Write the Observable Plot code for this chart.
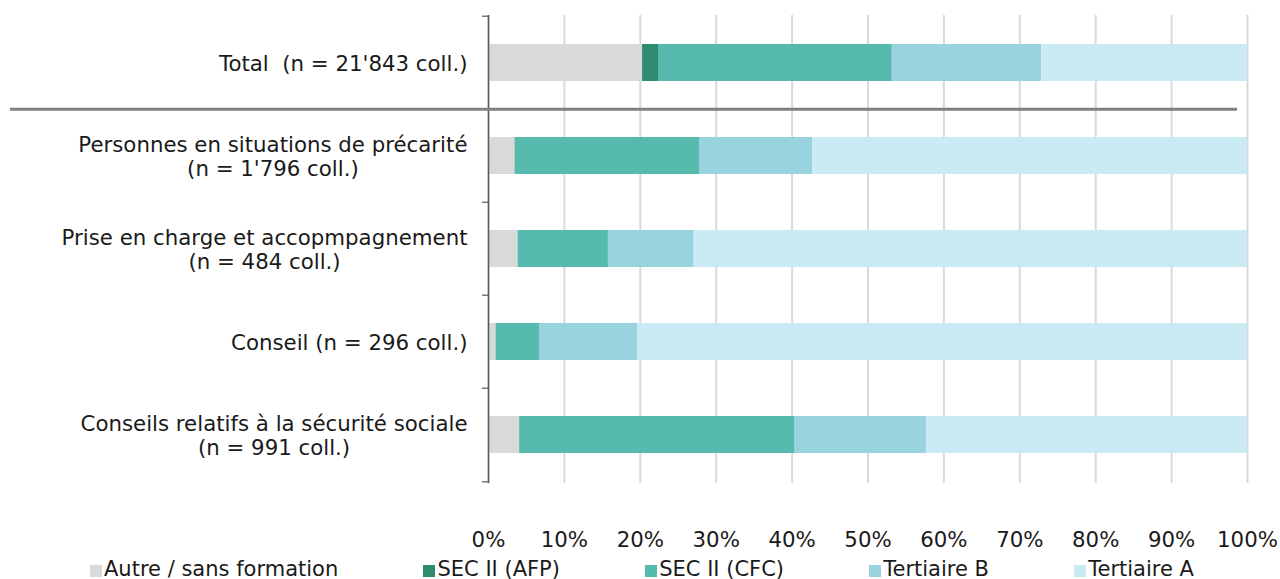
<!DOCTYPE html>
<html><head><meta charset="utf-8">
<script src="https://cdn.jsdelivr.net/npm/d3@7"></script>
<script src="https://cdn.jsdelivr.net/npm/@observablehq/plot@0.6"></script>
<style>
body{margin:0;background:#fff;font-family:"DejaVu Sans",Verdana,sans-serif;}
#chart svg{display:block;}
#legend{display:flex;justify-content:space-between;width:1104px;margin-left:90px;margin-top:2px;font-size:21px;color:#1a1a1a;line-height:24px;}
#legend span.sw{display:inline-block;width:12px;height:12px;margin-right:2px;vertical-align:-1px;}
</style></head>
<body><div id="chart"></div><div id="legend"></div>
<script>
const categories = ["Total", "Précarité", "Prise en charge", "Conseil", "Sécurité sociale"];
const catLabels = [
  "Total  (n = 21'843 coll.)",
  "Personnes en situations de précarité\n(n = 1'796 coll.)",
  "Prise en charge et accopmpagnement\n(n = 484 coll.)",
  "Conseil (n = 296 coll.)",
  "Conseils relatifs à la sécurité sociale\n(n = 991 coll.)"
];
const seriesNames = ["Autre / sans formation", "SEC II (AFP)", "SEC II (CFC)", "Tertiaire B", "Tertiaire A"];
const autre = [20.3, 3.5, 3.9, 1.0, 4.1];
const afp = [2.1, 0, 0, 0, 0];
const cfc = [30.8, 24.3, 11.9, 5.8, 36.3];
const tertB = [19.7, 14.9, 11.3, 12.9, 17.3];
const tertA = [27.1, 57.3, 72.9, 80.3, 42.3];
const xTicks = [0, 10, 20, 30, 40, 50, 60, 70, 80, 90, 100];
const colors = ["#d9d9d9", "#2e8b6f", "#56bbac", "#99d4de", "#cbebf4"];

const seriesValues = [autre, afp, cfc, tertB, tertA];
const rows = [];
categories.forEach((c, i) => seriesNames.forEach((s, j) => rows.push({cat: c, series: s, value: seriesValues[j][i]})));

const W = 1280, H = 555, mT = 15, mB = 72, mL = 488, mR = 33;
const step = (H - mT - mB) / categories.length;
const labelOf = new Map(categories.map((c, i) => [c, catLabels[i]]));
const FS = 21.3;

const plot = Plot.plot({
  width: W, height: H,
  marginTop: mT, marginBottom: mB, marginLeft: mL, marginRight: mR,
  style: {fontFamily: "'DejaVu Sans', Verdana, sans-serif", fontSize: FS + "px", color: "#1a1a1a", background: "#fff"},
  x: {domain: [0, 100], label: null},
  y: {domain: categories, paddingInner: 0.6, paddingOuter: 0.3, label: null},
  color: {domain: seriesNames, range: colors},
  marks: [
    Plot.gridX(xTicks, {stroke: "#d9d9d9", strokeOpacity: 1, strokeWidth: 2}),
    Plot.barX(rows, Plot.stackX({x: "value", y: "cat", fill: "series", order: seriesNames})),
    Plot.ruleX([0], {stroke: "#595959", strokeWidth: 1.5}),
    Plot.ruleY(categories, {y: d => d, dy: -step / 2, x1: -0.8, x2: 0, stroke: "#595959", strokeWidth: 1.2}),
    Plot.ruleY(categories.slice(-1), {y: d => d, dy: step / 2, x1: -0.8, x2: 0, stroke: "#595959", strokeWidth: 1.2}),
    Plot.ruleY(categories.slice(1, 2), {y: d => d, dy: -step / 2, stroke: "#808080", strokeWidth: 3, insetLeft: -478, insetRight: 10}),
    Plot.axisX(xTicks, {label: null, tickSize: 0, tickPadding: 48, tickFormat: d => d + "%", fill: "#1a1a1a", fontSize: FS}),
    Plot.axisY({label: null, tickSize: 0, tickPadding: 21, tickFormat: d => labelOf.get(d), fill: "#1a1a1a", fontSize: FS, lineHeight: 1.17})
  ]
});
document.getElementById("chart").appendChild(plot);

// center multi-line labels on their longest line, keeping right alignment
d3.select(plot).selectAll('g[aria-label="y-axis tick label"] text').each(function() {
  const tspans = this.querySelectorAll("tspan");
  this.style.whiteSpace = "pre";
  if (tspans.length > 1) {
    const w = d3.max(Array.from(tspans), t => t.getComputedTextLength());
    this.setAttribute("text-anchor", "middle");
    tspans.forEach(t => t.setAttribute("x", -w / 2));
  }
});

const legend = document.getElementById("legend");
seriesNames.forEach((s, i) => {
  const item = document.createElement("div");
  item.innerHTML = `<span class="sw" style="background:${colors[i]}"></span>${s}`;
  legend.appendChild(item);
});
</script></body></html>
